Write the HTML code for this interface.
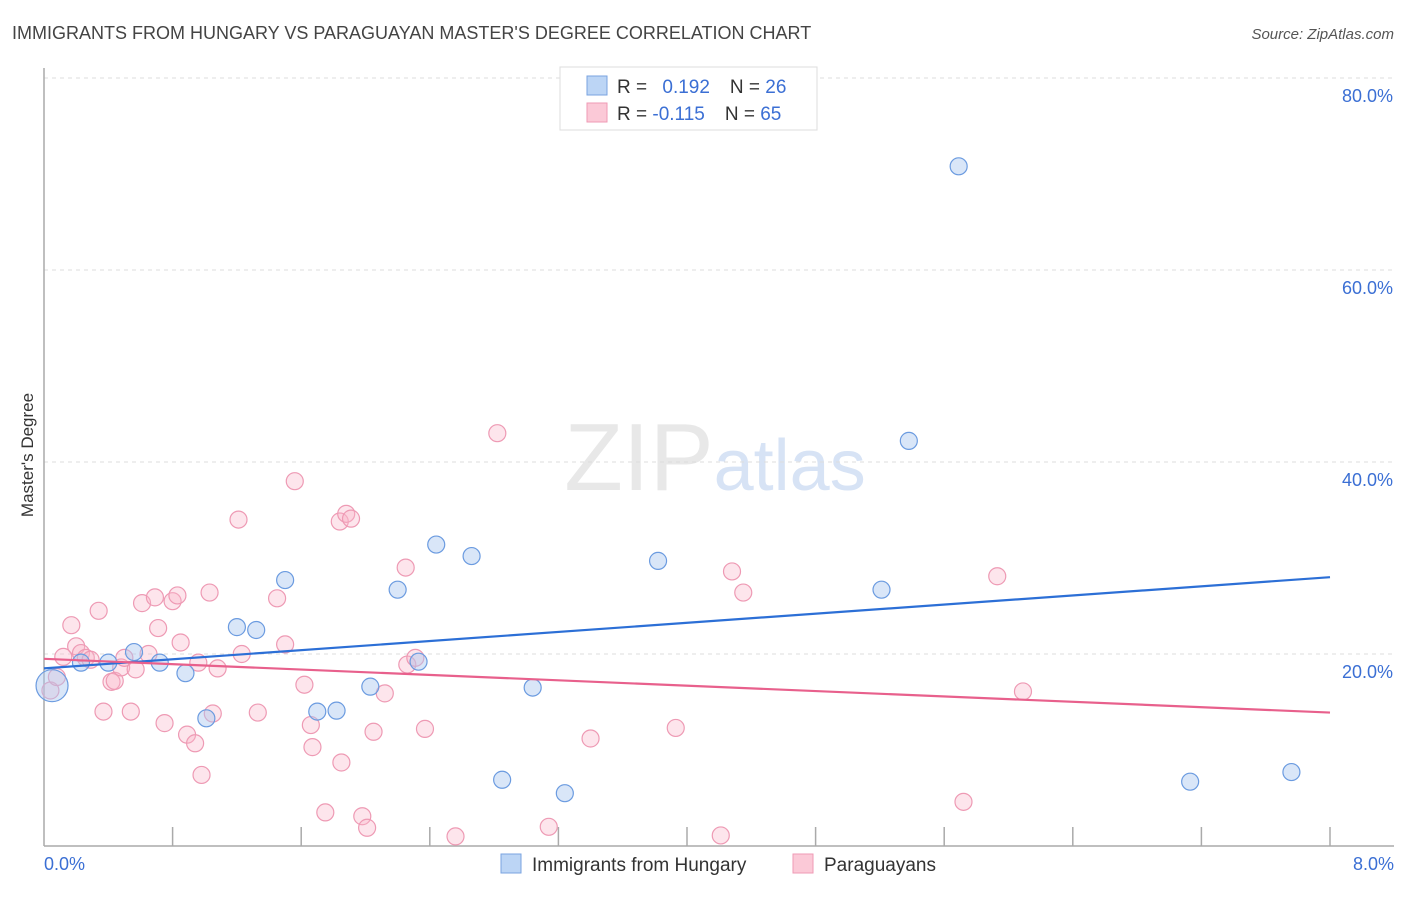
<!DOCTYPE html>
<html><head><meta charset="utf-8"><style>
body{margin:0;background:#fff;font-family:"Liberation Sans",sans-serif;}
svg text{font-family:"Liberation Sans",sans-serif;}
</style></head><body>
<svg id="chart" width="1406" height="892" xmlns="http://www.w3.org/2000/svg">
<text x="12" y="39" font-size="18" fill="#444">IMMIGRANTS FROM HUNGARY VS PARAGUAYAN MASTER'S DEGREE CORRELATION CHART</text>
<text x="1394" y="39" font-size="15" fill="#555" text-anchor="end" font-style="italic">Source: ZipAtlas.com</text>
<text x="715" y="490" font-size="96" text-anchor="middle" fill="#e8e8e8" font-family="Liberation Serif">ZIP<tspan fill="#d7e3f5" font-family="Liberation Sans" font-size="72">atlas</tspan></text>
<text transform="translate(33,455) rotate(-90)" font-size="17" fill="#333" text-anchor="middle">Master's Degree</text>
<g id="grid"></g><g id="axes"></g><g id="marks"></g>
<g>
<rect x="560" y="67" width="257" height="63" fill="#fff" stroke="#ddd"/>
<rect x="587" y="76" width="20" height="19" fill="#bcd5f5" stroke="#7aa3e0"/>
<rect x="587" y="103" width="20" height="19" fill="#fbc9d7" stroke="#ef9ab4"/>
<text x="617" y="93" font-size="19" fill="#333">R = <tspan fill="#3b6fd4" dx="10">0.192</tspan><tspan dx="20" fill="#333">N = </tspan><tspan fill="#3b6fd4">26</tspan></text>
<text x="617" y="120" font-size="19" fill="#333">R = <tspan fill="#3b6fd4">-0.115</tspan><tspan dx="20" fill="#333">N = </tspan><tspan fill="#3b6fd4">65</tspan></text>
</g>
<g>
<rect x="501" y="854" width="20" height="19" fill="#bcd5f5" stroke="#7aa3e0"/>
<text x="532" y="871" font-size="19" fill="#333">Immigrants from Hungary</text>
<rect x="793" y="854" width="20" height="19" fill="#fbc9d7" stroke="#ef9ab4"/>
<text x="824" y="871" font-size="19" fill="#333">Paraguayans</text>
</g>
</svg>
<script>
const yTicks=[20,40,60,80];
const yTickLabels=["20.0%","40.0%","60.0%","80.0%"];
const xTickLabels=["0.0%","8.0%"];
const hungaryX=[0.05,0.23,0.40,0.56,0.72,0.88,1.01,1.20,1.32,1.50,1.70,1.82,2.03,2.20,2.33,2.44,2.66,2.85,3.04,3.24,3.82,5.21,5.38,5.69,7.13,7.76];
const hungaryY=[16.7,19.1,19.1,20.2,19.1,18.0,13.3,22.8,22.5,27.7,14.0,14.1,16.6,26.7,19.2,31.4,30.2,6.9,16.5,5.5,29.7,26.7,42.2,70.8,6.7,7.7];
const paraX=[0.04,0.08,0.17,0.20,0.23,0.26,0.12,0.29,0.34,0.37,0.42,0.44,0.48,0.50,0.54,0.57,0.61,0.65,0.69,0.71,0.75,0.80,0.83,0.85,0.89,0.94,0.96,0.98,1.03,1.05,1.08,1.21,1.23,1.33,1.45,1.50,1.56,1.62,1.66,1.67,1.75,1.85,1.84,1.88,1.91,1.98,2.01,2.05,2.12,2.25,2.26,2.31,2.37,2.56,2.82,3.14,3.40,3.93,4.21,4.28,4.35,5.72,5.93,6.09];
const paraY=[16.2,17.6,23.0,20.8,20.1,19.6,19.7,19.4,24.5,14.0,17.1,17.2,18.6,19.6,14.0,18.4,25.3,20.0,25.9,22.7,12.8,25.5,26.1,21.2,11.6,10.7,19.1,7.4,26.4,13.8,18.5,34.0,20.0,13.9,25.8,21.0,38.0,16.8,12.6,10.3,3.5,8.7,33.8,34.6,34.1,3.1,1.9,11.9,15.9,29.0,18.9,19.6,12.2,1.0,43.0,2.0,11.2,12.3,1.1,28.6,26.4,4.6,28.1,16.1];
const hungaryTrend=[18.5,28.0];
const paraTrend=[19.5,13.9];
const X0=44,X1=1330,Y0=846,PY=9.6;
const xs=v=>X0+(X1-X0)*v/8;
const ys=v=>Y0-v*PY;
const NS="http://www.w3.org/2000/svg";
function mk(tag,attrs,parent){const e=document.createElementNS(NS,tag);for(const k in attrs)e.setAttribute(k,attrs[k]);document.getElementById(parent).appendChild(e);return e;}
yTicks.forEach((t,i)=>{
 const l=mk('line',{x1:X0,x2:1394,y1:ys(t),y2:ys(t),stroke:'#ddd','stroke-dasharray':'4,4'},'grid');
 
 
 const tx=mk('text',{x:1393,y:ys(t)+24,'font-size':18,fill:'#3b6fd4','text-anchor':'end'},'grid');
 tx.textContent=yTickLabels[i];
 
 
});
const topGrid=mk('line',{x1:X0,x2:1394,y1:78,y2:78,stroke:'#ddd','stroke-dasharray':'4,4'},'grid');


const ya=mk('line',{x1:X0,x2:X0,y1:68,y2:Y0,stroke:'#aaa','stroke-width':1.5},'axes');


const xa=mk('line',{x1:X0,x2:1394,y1:Y0,y2:Y0,stroke:'#aaa','stroke-width':1.5},'axes');


for(let i=1;i<=10;i++){
 const tk=mk('line',{x1:xs(i*0.8),x2:xs(i*0.8),y1:827,y2:Y0,stroke:'#aaa','stroke-width':1.5},'axes');
 
 
}
[[0,'start',X0],[8,'end',1394]].forEach((p,i)=>{
 const tx=mk('text',{x:p[2],y:870,'font-size':18,fill:'#3b6fd4','text-anchor':p[1]},'axes');
 tx.textContent=xTickLabels[i];
 
 
});
paraX.forEach((x,i)=>{
 const c=mk('circle',{cx:xs(x),cy:ys(paraY[i]),r:8.5,fill:'rgba(248,180,200,0.35)',stroke:'#ee9ab4','stroke-width':1.2},'marks');
 
 
});
hungaryX.forEach((x,i)=>{
 const c=mk('circle',{cx:xs(x),cy:ys(hungaryY[i]),r:i===0?16:8.5,fill:'rgba(170,200,240,0.45)',stroke:'#6b9be0','stroke-width':1.2},'marks');
 
 
});
const bl=mk('line',{x1:xs(0),x2:xs(8),y1:ys(hungaryTrend[0]),y2:ys(hungaryTrend[1]),stroke:'#2c6fd6','stroke-width':2.2},'marks');


const pl=mk('line',{x1:xs(0),x2:xs(8),y1:ys(paraTrend[0]),y2:ys(paraTrend[1]),stroke:'#e8608c','stroke-width':2.2},'marks');


</script>
</body></html>
